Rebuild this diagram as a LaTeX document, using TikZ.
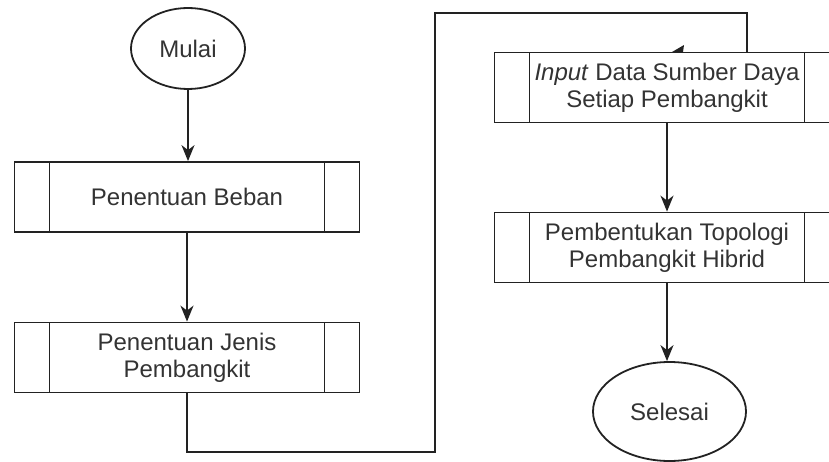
\documentclass[tikz,border=0pt]{standalone}
\usepackage{fontspec}
\setmainfont{Liberation Sans}
\usetikzlibrary{arrows.meta,shapes.geometric}
\definecolor{ln}{HTML}{222222}
\definecolor{tx}{HTML}{333333}
\tikzset{
  proc/.style={draw=ln, line width=1.8pt, minimum width=345pt, minimum height=70pt,
    inner sep=0pt, align=center, text=tx, font=\fontsize{24}{27}\selectfont,
    path picture={
      \draw[ln, line width=1.8pt] ([xshift=35pt]path picture bounding box.north west) -- ([xshift=35pt]path picture bounding box.south west);
      \draw[ln, line width=1.8pt] ([xshift=-35pt]path picture bounding box.north east) -- ([xshift=-35pt]path picture bounding box.south east);
    }},
  term/.style={draw=ln, line width=1.8pt, ellipse, inner sep=0pt, text=tx,
    font=\fontsize{24}{27}\selectfont},
  conn/.style={draw=ln, line width=1.8pt},
  arr/.style={conn, -{Stealth[length=16pt,width=13pt,inset=5pt]}},
}
\begin{document}
\begin{tikzpicture}[x=1pt,y=1pt]
\useasboundingbox (0,0) rectangle (829,461);
\clip (0,0) rectangle (829,461);
\node[term, minimum width=114pt, minimum height=81pt] (mulai) at (188,412.5) {Mulai};
\node[proc] (b1) at (187,264) {Penentuan Beban};
\node[proc] (b2) at (187,103.5) {Penentuan Jenis\\Pembangkit};
\node[proc] (r1) at (667,373.5) {\textit{Input} Data Sumber Daya\\Setiap Pembangkit};
\node[proc] (r2) at (667,213.5) {Pembentukan Topologi\\Pembangkit Hibrid};
\node[term, minimum width=153pt, minimum height=99pt] (selesai) at (669.5,49.5) {Selesai};

\draw[arr] (mulai.south) -- (mulai.south |- b1.north);
\draw[arr] (b1.south) -- (b2.north);
\coordinate (c1) at (187,9);
\coordinate (c2) at (435,9);
\coordinate (c3) at (435,448);
\coordinate (c4) at (747,448);
\draw[conn] (b2.south) -- (c1) -- (c2) -- (c3) -- (c4) -- (c4 |- r1.north);
\fill[ln] (672,409) -- (684,416) -- (683,409) -- cycle;
\draw[arr] (r1.south) -- (r2.north);
\draw[arr] (r2.south) -- (r2.south |- selesai.north);
\end{tikzpicture}
\end{document}
